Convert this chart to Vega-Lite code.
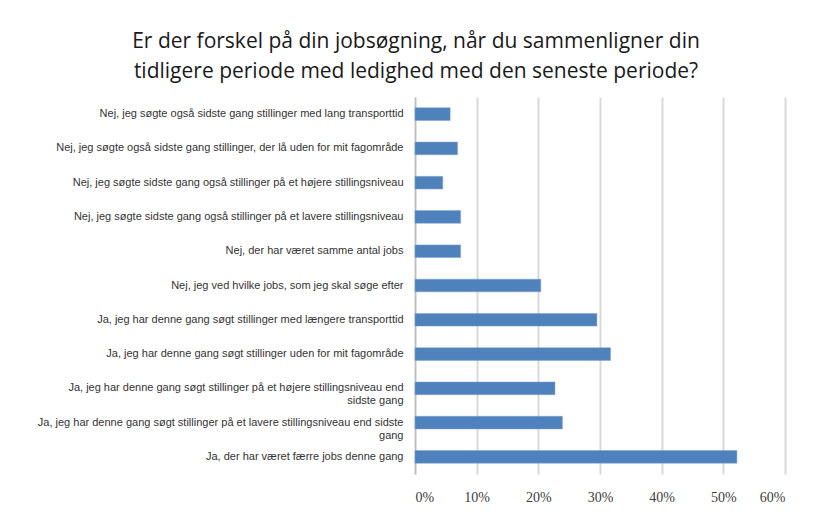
{
  "$schema": "https://vega.github.io/schema/vega-lite/v6.json",
  "width": 370,
  "height": 377,
  "autosize": {"type": "none"},
  "padding": {"left": 415, "top": 97, "right": 32, "bottom": 42},
  "background": "white",
  "title": {
    "text": ["Er der forskel på din jobsøgning, når du sammenligner din", "tidligere periode med ledighed med den seneste periode?"],
    "font": "Open Sans",
    "fontSize": 21,
    "fontWeight": "normal",
    "color": "#1a1a1a",
    "lineHeight": 30,
    "anchor": "middle",
    "frame": "group",
    "dx": -184,
    "offset": 15
  },
  "data": {
    "values": [
      {"label": "Nej, jeg søgte også sidste gang stillinger med lang transporttid", "pct": 0.057, "order": 1},
      {"label": "Nej, jeg søgte også sidste gang stillinger, der lå uden for mit fagområde", "pct": 0.069, "order": 2},
      {"label": "Nej, jeg søgte sidste gang også stillinger på et højere stillingsniveau", "pct": 0.045, "order": 3},
      {"label": "Nej, jeg søgte sidste gang også stillinger på et lavere stillingsniveau", "pct": 0.074, "order": 4},
      {"label": "Nej, der har været samme antal jobs", "pct": 0.074, "order": 5},
      {"label": "Nej, jeg ved hvilke jobs, som jeg skal søge efter", "pct": 0.204, "order": 6},
      {"label": "Ja, jeg har denne gang søgt stillinger med længere transporttid", "pct": 0.295, "order": 7},
      {"label": "Ja, jeg har denne gang søgt stillinger uden for mit fagområde", "pct": 0.317, "order": 8},
      {"label": "Ja, jeg har denne gang søgt stillinger på et højere stillingsniveau end|sidste gang", "pct": 0.227, "order": 9},
      {"label": "Ja, jeg har denne gang søgt stillinger på et lavere stillingsniveau end sidste|gang", "pct": 0.239, "order": 10},
      {"label": "Ja, der har været færre jobs denne gang", "pct": 0.522, "order": 11}
    ]
  },
  "mark": {"type": "bar", "color": "#4f81bd", "stroke": "#7fa3d0", "strokeWidth": 0.5},
  "encoding": {
    "y": {
      "field": "label",
      "type": "nominal",
      "sort": {"field": "order", "op": "min", "order": "ascending"},
      "scale": {"paddingInner": 0.63, "paddingOuter": 0.315},
      "axis": {
        "title": null,
        "labelExpr": "split(datum.value, '|')",
        "labelFont": "Liberation Sans",
        "labelFontSize": 11,
        "labelColor": "#333333",
        "labelLimit": 400,
        "labelPadding": 12,
        "labelLineHeight": 13,
        "ticks": false,
        "domain": true,
        "domainColor": "#bfbfbf",
        "domainWidth": 1.5,
        "grid": false
      }
    },
    "x": {
      "field": "pct",
      "type": "quantitative",
      "scale": {"domain": [0, 0.6], "nice": false},
      "axis": {
        "title": null,
        "format": ".0%",
        "values": [0, 0.1, 0.2, 0.3, 0.4, 0.5, 0.6],
        "labelFont": "Liberation Serif",
        "labelFontSize": 14,
        "labelColor": "#404040",
        "labelPadding": 16,
        "ticks": false,
        "domain": false,
        "grid": true,
        "gridColor": "#d9d9d9",
        "gridWidth": 2
      }
    }
  },
  "config": {"view": {"stroke": null}}
}
